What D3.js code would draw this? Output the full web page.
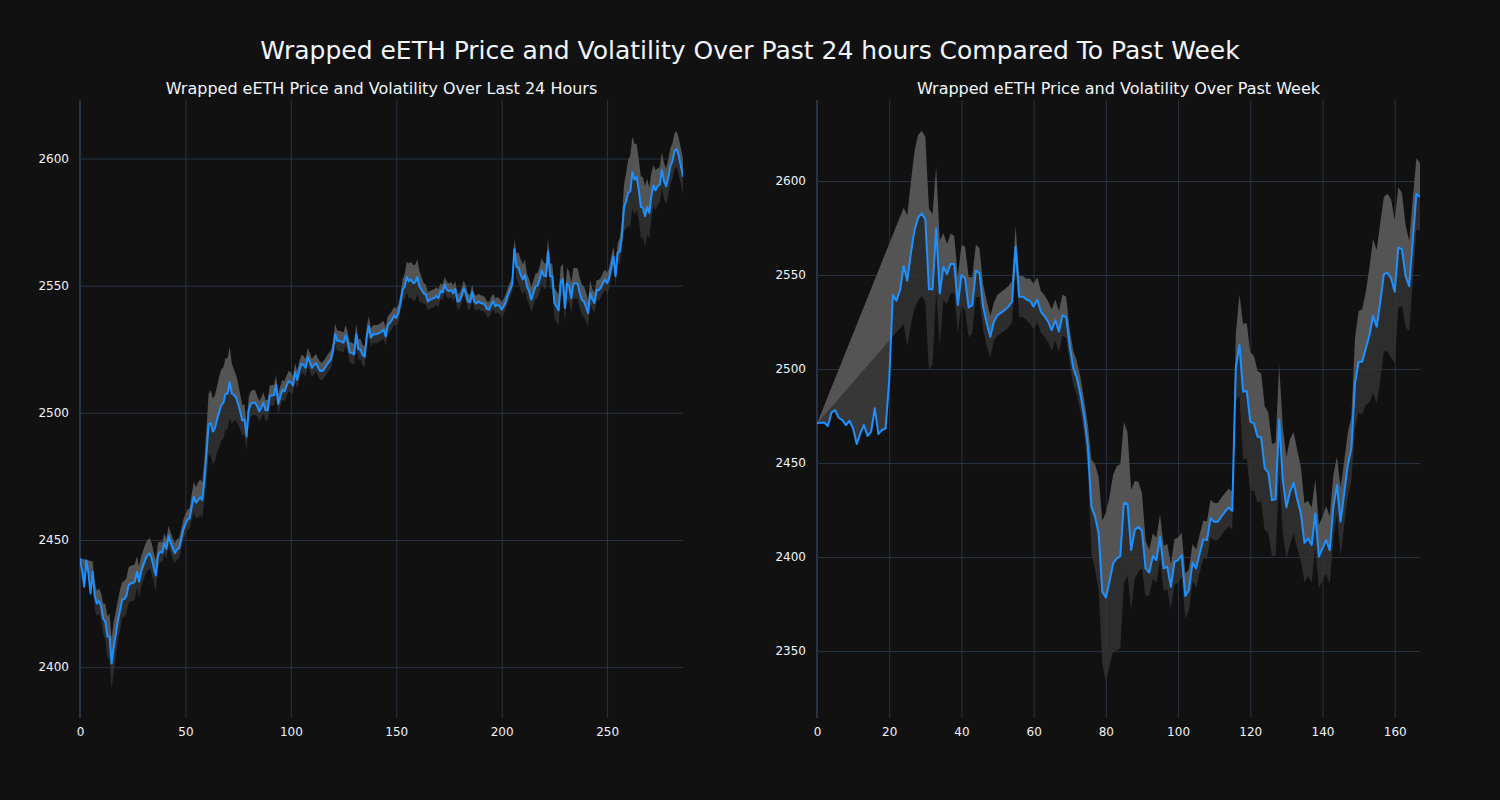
<!DOCTYPE html>
<html><head><meta charset="utf-8">
<script src="https://cdn.jsdelivr.net/npm/d3@7/dist/d3.min.js"></script>
<style>body{margin:0;background:#111111;} svg{display:block}</style>
</head><body><svg id="c" width="1500" height="800"></svg>
<script>
const mainTitle = "Wrapped eETH Price and Volatility Over Past 24 hours Compared To Past Week";
const dayTitle = "Wrapped eETH Price and Volatility Over Last 24 Hours";
const weekTitle = "Wrapped eETH Price and Volatility Over Past Week";

const dayPrice = [
2442.8,2438,2431.6,2442,2437,2429,2437.5,2428,2425,2426,
2424,2419,2418,2412,2412,2401.5,2408,2413,2418.5,2422.4,
2426.6,2426.8,2428,2432,2433,2433,2433.6,2437.5,2433.6,2437.5,
2440,2442.4,2444,2444.8,2442.8,2439,2436,2444,2445.4,2445,
2448.7,2446.5,2451.6,2449,2446.7,2444.8,2446.3,2446.7,2450.3,2454,
2456.3,2458,2458.5,2463,2467,2464.7,2465.7,2466.8,2465.7,2473.6,
2484,2495.5,2496,2492.6,2494,2497.4,2500.3,2503,2503.9,2507.5,
2507.5,2512,2507.5,2507,2506,2503.5,2500.3,2497,2497.4,2490.7,
2501,2503.5,2504,2504,2502.7,2500.6,2502,2504,2501,2501,
2506.8,2506.8,2507,2510.8,2503.5,2506.4,2509,2508.4,2510.8,2512.4,
2512,2510.8,2516,2513,2516.7,2519.3,2518.8,2517.7,2522,2520,
2517.7,2518.8,2519.6,2517.7,2516.4,2516.4,2517.5,2518.8,2520,2521,
2524.4,2531,2528.3,2528.3,2528,2527.6,2530.5,2527.6,2523.6,2523.6,
2523,2530.9,2525,2525,2522.8,2522,2530,2534,2529.6,2531,
2530.9,2531,2531.4,2532,2532.7,2530,2534.6,2535.3,2536.6,2538.2,
2537.3,2539.2,2543.2,2548.4,2549.7,2553.4,2551.7,2552.4,2551,2551.3,
2553.4,2549.7,2548.4,2547,2546.5,2543.8,2544.5,2544.8,2545.1,2546,
2545.1,2547.8,2547.4,2550.4,2548.4,2547.8,2548.4,2547,2548.7,2543.8,
2544,2546,2549,2547,2543.8,2543.4,2547.4,2543.8,2543,2543.8,
2543.2,2543,2542.5,2540.8,2540.6,2542.5,2543.8,2541.9,2542.5,2541.9,
2540.6,2541.9,2543.8,2546.5,2548.4,2550.4,2564.4,2557.6,2557,2554.3,
2552.4,2554.3,2549.7,2547.8,2544.5,2546.9,2549.7,2550,2552.4,2556,
2554,2553.7,2563.5,2553.7,2553.7,2543.2,2541.9,2540.3,2551.3,2552.6,
2541.2,2550.8,2549.7,2545.1,2550.8,2551,2550.8,2547.1,2544.5,2543.8,
2541.6,2539.2,2547.1,2544.7,2543.2,2548.2,2548.2,2549.1,2551,2552.4,
2551,2553,2557.6,2561.5,2553.7,2562.9,2563.5,2569.4,2580.6,2583.2,
2586.5,2587.1,2594.6,2591.7,2592.8,2587.8,2581,2580.6,2577.3,2581,
2578.6,2585.4,2589.4,2587.5,2589.1,2589.8,2595.4,2591.1,2589.1,2592.4,
2597,2599,2602.9,2603.8,2600.9,2597,2592.8
];
const dayVol = [
null,null,null,null,null,null,4,5,5,5,
5,6,7,8,9,10,10,9,8,8,
7,7,7,7,7,7,7,6,6,6,
6,6,6,6,6,6,6,5,4,4,
4,4,4,4,4,4,4,4,4,4,
4,4,4,5,6,6,7,7,7,8,
10,12,13,13,13,13,14,14,14,14,
14,14,12,10,9,8,7,6,6,5,
5,5,5,5,4,4,4,4,4,4,
4,4,4,4,4,4,4,4,4,4,
4,3.5,3.5,3.5,3.5,3.5,3.5,3.5,3.5,3.5,
3.5,3.5,3.5,3.5,3.5,3.5,3.5,3.5,3.5,3.5,
3.5,4,4,4,4,4,4,4,4,4,
4,4,4,4,4,4,4,4,3.5,3.5,
3.5,3.5,3.5,3.5,3.5,3.5,3.5,3.5,3.5,3.5,
3.5,3.5,3.5,4,5,6,7,7,7,7,
7,6,5,4,4,3.5,3.5,3.5,3.5,3.5,
3.5,3,3,3,3,3,3,3,3,3,
3,3,3,3,3,3,3,3,3,3,
3,3,3,3,3,3,3,3,3,3,
3,3,3,3,3,3,4,5,6,6,
6,6,5,5,5,5,5,5,5,5,
5,5,5,5,5,6,6,6,6,6,
6,6,6,6,6,6,6,6,6,6,
6,5,5,4,4,4,4,4,4,4,
4,4,4,4,4,4,5,6,9,11,
13,14,14,14,13,12,12,12,12,11,
10,9,8,8,7,7,7,7,7,7,
7,7,7,7,7,7,7
];
const weekPrice = [
2471.1,2471.5,2471.6,2469.7,2476.8,2478.2,2474.1,2472.9,2470.2,2472.5,
2468.4,2460.1,2465.8,2470.2,2464.4,2466.7,2479.1,2465.4,2467.6,2468.4,
2494.1,2539.4,2536.3,2542,2554.8,2547,2561.5,2573.9,2580.5,2582.8,
2579.6,2542.4,2542.4,2574.8,2540.2,2554.4,2550.5,2555.9,2555.9,2534,
2550,2548.2,2532.8,2534,2552.3,2551.2,2533.2,2524.3,2517.2,2525.2,
2528.7,2530,2531.4,2533.2,2535.8,2565.1,2538.5,2538.5,2537,2536.2,
2533.2,2537,2530.5,2528.2,2525.2,2520.7,2526,2519.9,2528.7,2527.5,
2511.9,2500.4,2495,2486.2,2474.6,2458.7,2426.8,2421.5,2412.6,2381.6,
2378.5,2386.9,2396.6,2399.3,2400.5,2428.9,2428.2,2403.7,2414.4,2416.1,
2414,2394,2391.7,2400.5,2398.4,2410.8,2394,2394.9,2384.2,2397.5,
2398.4,2401.1,2379.3,2382.4,2397,2394,2402,2409.4,2409,2420.6,
2418.8,2418.8,2421.5,2424.1,2426.4,2424.6,2501.2,2512.8,2487.9,2488.5,
2472,2471.1,2464,2463.7,2447.2,2444.9,2430.3,2430.7,2473.2,2441,
2426.4,2434.8,2439.5,2430.7,2423.2,2407.6,2409.9,2406.4,2423.2,2400.2,
2404.6,2409.1,2403.7,2426.8,2438.3,2418.8,2433.9,2449,2457.8,2492.4,
2503.9,2503.9,2511,2518.1,2528.2,2522.5,2535.8,2550.5,2551.2,2548.2,
2541.1,2564.7,2563.7,2549.5,2544.1,2568.6,2593.1,2591.7
];
const weekVol = [
null,null,null,null,null,null,null,null,null,null,
null,null,null,null,null,null,null,null,null,null,
null,null,null,null,31,35,38,42,44,44,
44,43,40,33,28,18,16,16,15,15,
16,17,16,15,14,13,12,12,11,10,
11,11,11,11,11,11,11,11,11,12,
12,12,11,11,11,11,11,11,11,11,
9,9,9,9,9,12,25,28,30,38,
45,45,47,49,49,43,38,32,26,24,
20,15,12,12,12,12,12,12,12,12,
12,12,12,11,10,10,10,10,10,10,
10,10,10,10,10,10,18,27,36,36,
37,36,35,34,33,32,30,30,29,28,
27,28,27,26,25,21,20,20,18,17,
17,18,18,17,15,18,17,17,17,24,
27,28,30,36,41,41,42,41,42,42,
38,32,30,27,24,22,19,18
];
const dayXTicks = [0,50,100,150,200,250];
const dayYTicks = [2400,2450,2500,2550,2600];
const weekXTicks = [0,20,40,60,80,100,120,140,160];
const weekYTicks = [2350,2400,2450,2500,2550,2600];

const FONT = "'DejaVu Sans', Verdana, sans-serif";
const TXT = "#f2f5fa";
const GRID = "#283442";
const svg = d3.select("#c");
svg.append("rect").attr("width",1500).attr("height",800).attr("fill","#111111");

svg.append("text").attr("x",750).attr("y",59).attr("text-anchor","middle")
  .attr("font-family",FONT).attr("font-size",25).attr("fill",TXT).text(mainTitle);

function panel(id, title, price, vol, xTicks, yTicks, xr, yDom){
  const top=100, bottom=718;
  const x = d3.scaleLinear().domain([0, price.length-1]).range(xr);
  const y = d3.scaleLinear().domain(yDom).range([bottom, top]);
  const g = svg.append("g");
  g.append("clipPath").attr("id","clip"+id).append("rect")
    .attr("x",xr[0]).attr("y",top).attr("width",xr[1]-xr[0]).attr("height",bottom-top);

  const gx = g.append("g").attr("transform",`translate(0,${bottom})`)
    .call(d3.axisBottom(x).tickValues(xTicks).tickSize(-(bottom-top)).tickPadding(9).tickFormat(d3.format("d")));
  gx.select(".domain").remove();
  gx.selectAll("line").attr("stroke",GRID).attr("stroke-width",1);
  gx.selectAll("text").attr("fill",TXT).attr("font-family",FONT).attr("font-size",12);
  const gy = g.append("g").attr("transform",`translate(${xr[0]},0)`)
    .call(d3.axisLeft(y).tickValues(yTicks).tickSize(-(xr[1]-xr[0])).tickPadding(11).tickFormat(d3.format("d")));
  gy.select(".domain").remove();
  gy.selectAll("line").attr("stroke",GRID).attr("stroke-width",1);
  gy.selectAll("text").attr("fill",TXT).attr("font-family",FONT).attr("font-size",12);
  g.append("line").attr("x1",x(0)).attr("x2",x(0)).attr("y1",top).attr("y2",bottom)
    .attr("stroke",GRID).attr("stroke-width",2);

  const line = d3.line();
  const idx = d3.range(price.length);
  const valid = idx.filter(i => vol[i] !== null);
  const priceRev = idx.slice().reverse().map(i => [x(i), y(price[i])]);
  const upperPts = valid.map(i => [x(i), y(price[i] + vol[i])]).concat(priceRev);
  const lowerPts = valid.map(i => [x(i), y(price[i] - vol[i])]).concat(priceRev);
  const fills = g.append("g").attr("clip-path",`url(#clip${id})`);
  fills.append("path").attr("d", line(upperPts)+"Z").attr("fill","rgb(84,84,84)");
  fills.append("path").attr("d", line(lowerPts)+"Z").attr("fill","rgba(50,50,50,0.85)");
  fills.append("path").attr("d", line(idx.map(i => [x(i), y(price[i])])))
    .attr("fill","none").attr("stroke","#1e90ff").attr("stroke-width",2).attr("stroke-linejoin","round");

  g.append("text").attr("x",(xr[0]+xr[1])/2).attr("y",94).attr("text-anchor","middle")
    .attr("font-family",FONT).attr("font-size",16).attr("fill",TXT).text(title);
}

panel("d", dayTitle, dayPrice, dayVol, dayXTicks, dayYTicks, [80,683], [2380,2623]);
panel("w", weekTitle, weekPrice, weekVol, weekXTicks, weekYTicks, [817,1420], [2314.4,2643.1]);
</script>
</body></html>
